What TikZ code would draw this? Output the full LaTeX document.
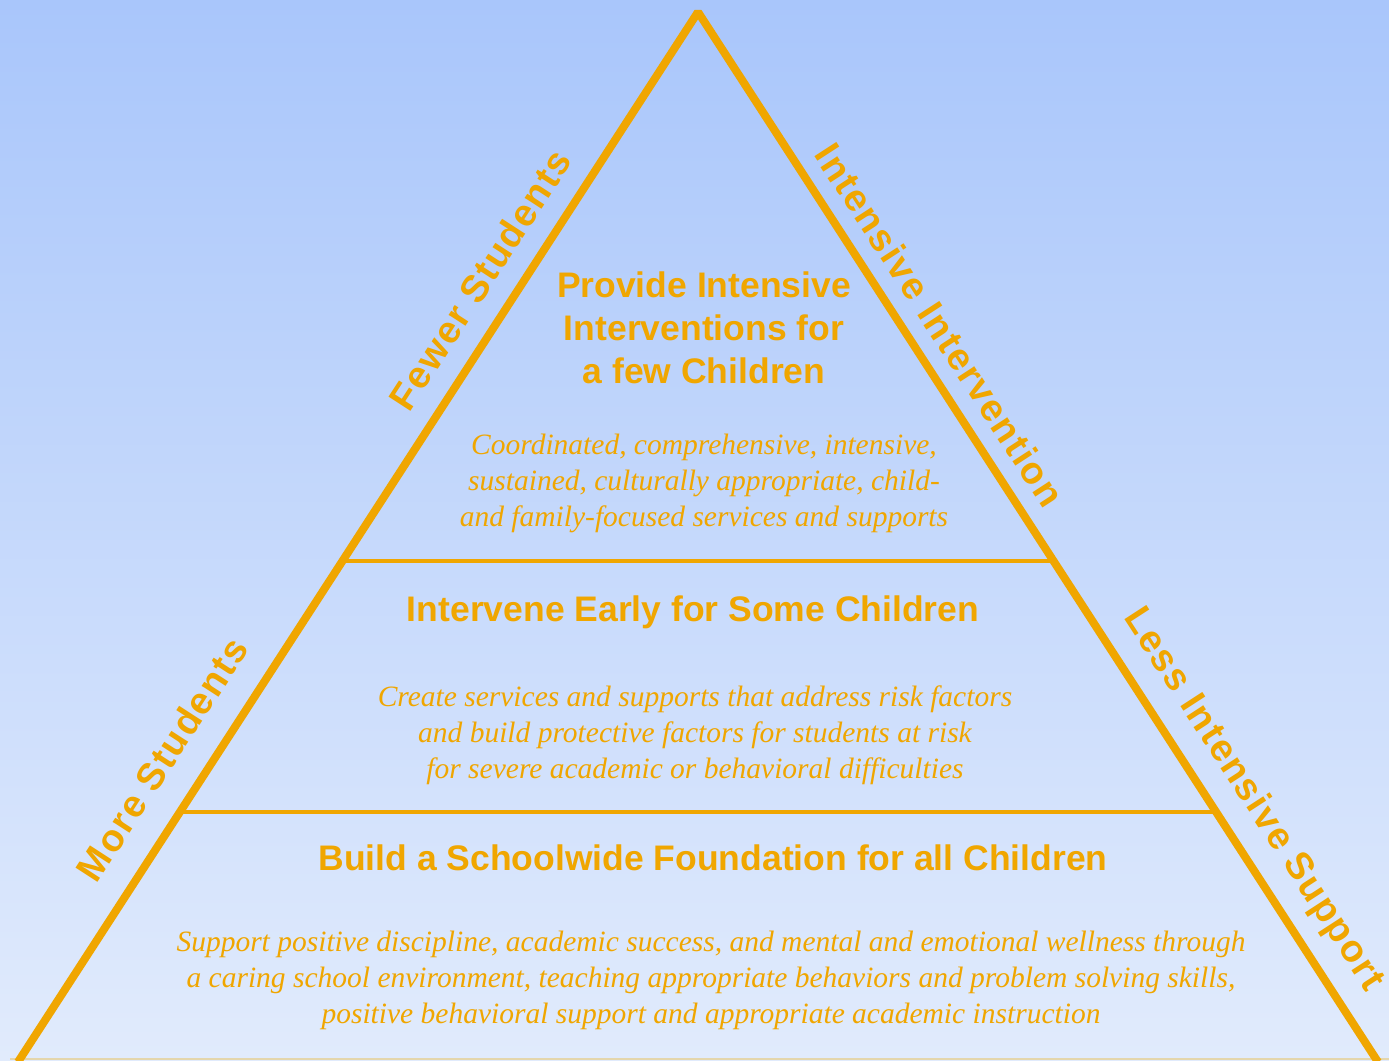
\documentclass[tikz,border=0pt]{standalone}
\usepackage{fontspec}
\setmainfont{Liberation Serif}
\setsansfont{Liberation Sans}
\usetikzlibrary{calc}
\definecolor{gold}{RGB}{240,166,0}
\definecolor{bgtop}{RGB}{169,198,251}
\definecolor{bgbot}{RGB}{225,235,252}
\definecolor{basecol}{RGB}{228,214,172}
\tikzset{
  side/.style={draw=gold, line width=8pt, line join=bevel},
  tier/.style={draw=gold, line width=4pt},
  baseedge/.style={draw=basecol, line width=2pt},
  heading/.style={text=gold, align=center, font=\sffamily\bfseries\fontsize{35.5}{43}\selectfont, inner sep=0pt},
  desc/.style={text=gold, align=center, font=\itshape\fontsize{29.5}{36}\selectfont, inner sep=0pt},
  edgelabel/.style={text=gold, inner sep=0pt, font=\sffamily\bfseries\fontsize{38}{40}\selectfont\addfontfeature{LetterSpace=4}}
}
\begin{document}
\begin{tikzpicture}[x=1pt,y=-1pt]
\useasboundingbox (0,0) rectangle (1389,1060);
\shade[top color=bgtop, bottom color=bgbot] (0,0) rectangle (1389,1060);
\coordinate (apex) at (698,12);
\coordinate (bl) at (18,1062);
\coordinate (br) at (1378,1062);
\coordinate (base l) at (10,1059);
\coordinate (base r) at (1389,1059);
\draw[baseedge] (base l) -- (base r);
\coordinate (t1l) at ($(apex)!0.5229!(bl)$);
\coordinate (t1r) at ($(apex)!0.5229!(br)$);
\coordinate (t2l) at ($(apex)!0.7619!(bl)$);
\coordinate (t2r) at ($(apex)!0.7619!(br)$);
\draw[tier] (t1l) -- (t1r);
\draw[tier] (t2l) -- (t2r);
\draw[side] (bl) -- (apex) -- (br);

\node[heading] (h1) at (704,328) {Provide Intensive\\Interventions for\\a few Children};
\node[desc] (d1) at (704,483) {Coordinated, comprehensive, intensive,\\sustained, culturally appropriate, child-\\and family-focused services and supports};
\node[heading] (h2) at (693,612) {Intervene Early for Some Children};
\node[desc] (d2) at (695,735) {Create services and supports that address risk factors\\and build protective factors for students at risk\\for severe academic or behavioral difficulties};
\node[heading] (h3) at (713,858) {Build a Schoolwide Foundation for all Children};
\node[desc] (d3) at (711,980) {Support positive discipline, academic success, and mental and emotional wellness through\\a caring school environment, teaching appropriate behaviors and problem solving skills,\\positive behavioral support and appropriate academic instruction};

\node[edgelabel, rotate=57] (fewer) at (480,280) {Fewer Students};
\node[edgelabel, rotate=57] (more) at (162,759) {More Students};
\node[edgelabel, rotate=-57] (intensive) at (940,325) {Intensive Intervention};
\node[edgelabel, rotate=-57] (less) at (1253,800) {Less Intensive Support};
\end{tikzpicture}
\end{document}
